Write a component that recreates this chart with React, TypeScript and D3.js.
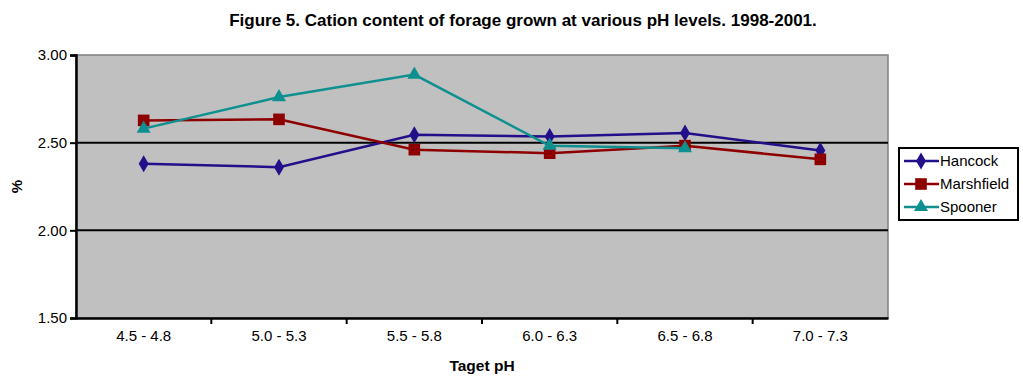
import { useEffect, useRef } from "react";
import * as d3 from "d3";

const categories = ["4.5 - 4.8", "5.0 - 5.3", "5.5 - 5.8", "6.0 - 6.3", "6.5 - 6.8", "7.0 - 7.3"];
const hancock = [2.38, 2.36, 2.545, 2.535, 2.555, 2.455];
const marshfield = [2.627, 2.633, 2.46, 2.44, 2.483, 2.405];
const spooner: (number | null)[] = [2.58, 2.76, 2.888, 2.482, 2.468, null];
const yTicks = [1.5, 2.0, 2.5, 3.0];

const series = [
  { name: "Hancock", values: hancock, color: "#21108a", symbol: d3.symbolDiamond, size: 85 },
  { name: "Marshfield", values: marshfield, color: "#8e0000", symbol: d3.symbolSquare, size: 135 },
  { name: "Spooner", values: spooner, color: "#0f9090", symbol: d3.symbolTriangle, size: 85 },
];

const W = 1023, H = 390;
const m = { left: 76, right: 135, top: 55, bottom: 72 };

export default function App() {
  const svgRef = useRef<SVGSVGElement>(null);

  useEffect(() => {
    if (!svgRef.current) return;
    const svg = d3.select(svgRef.current);
    svg.selectAll("*").remove();

    const x = d3.scaleBand().domain(categories).range([m.left, W - m.right]);
    const y = d3.scaleLinear().domain([1.5, 3.0]).range([H - m.bottom, m.top]);
    const font = "'Liberation Sans', Arial, sans-serif";

    svg.append("rect")
      .attr("x", m.left).attr("y", m.top)
      .attr("width", W - m.left - m.right).attr("height", H - m.top - m.bottom)
      .attr("fill", "#c0c0c0").attr("stroke", "#808080").attr("stroke-width", 1.5);

    // gridlines
    svg.append("g").selectAll("line")
      .data(yTicks.filter((t) => t > 1.5 && t < 3.0))
      .join("line")
      .attr("x1", m.left).attr("x2", W - m.right)
      .attr("y1", (d) => y(d)).attr("y2", (d) => y(d))
      .attr("stroke", "#000").attr("stroke-width", 2);

    // y axis
    const yAxis = svg.append("g").attr("transform", `translate(${m.left},0)`)
      .call(d3.axisLeft(y).tickValues(yTicks).tickFormat(d3.format(".2f")).tickSize(6).tickPadding(3));
    yAxis.select(".domain").attr("stroke-width", 2.5);
    yAxis.selectAll(".tick line").attr("stroke-width", 2);
    yAxis.selectAll("text").attr("font-family", font).attr("font-size", 15).attr("fill", "#000");

    // x axis
    const xAxis = svg.append("g").attr("transform", `translate(0,${H - m.bottom})`)
      .call(d3.axisBottom(x).tickSize(0).tickPadding(12));
    xAxis.select(".domain").attr("stroke-width", 2.5);
    xAxis.selectAll("text").attr("font-family", font).attr("font-size", 15).attr("fill", "#000");
    svg.append("g").selectAll("line")
      .data(categories.slice(1))
      .join("line")
      .attr("x1", (d) => x(d)!).attr("x2", (d) => x(d)!)
      .attr("y1", H - m.bottom).attr("y2", H - m.bottom + 6)
      .attr("stroke", "#000").attr("stroke-width", 2);

    const cx = (i: number) => x(categories[i])! + x.bandwidth() / 2;

    series.forEach((s) => {
      const line = d3.line<number | null>()
        .defined((d) => d != null)
        .x((_, i) => cx(i))
        .y((d) => y(d as number));
      svg.append("path")
        .datum(s.values)
        .attr("d", line)
        .attr("fill", "none").attr("stroke", s.color).attr("stroke-width", 2.5);
      svg.append("g").selectAll("path")
        .data(s.values.map((v, i) => ({ v, i })).filter((d) => d.v != null))
        .join("path")
        .attr("transform", (d) => `translate(${cx(d.i)},${y(d.v as number)})`)
        .attr("d", d3.symbol().type(s.symbol).size(s.size)())
        .attr("fill", s.color);
    });

    // legend
    const lg = svg.append("g").attr("transform", "translate(899,148)");
    lg.append("rect").attr("width", 119).attr("height", 72)
      .attr("fill", "#fff").attr("stroke", "#000").attr("stroke-width", 2);
    series.forEach((s, i) => {
      const yy = 13 + i * 23;
      lg.append("line").attr("x1", 5).attr("x2", 40).attr("y1", yy).attr("y2", yy)
        .attr("stroke", s.color).attr("stroke-width", 2.5);
      lg.append("path").attr("transform", `translate(22,${yy})`)
        .attr("d", d3.symbol().type(s.symbol).size(s.size)()).attr("fill", s.color);
      lg.append("text").attr("x", 41).attr("y", yy).attr("dy", "0.35em")
        .attr("font-family", font).attr("font-size", 15).text(s.name);
    });

    svg.append("text").attr("x", 523).attr("y", 26).attr("text-anchor", "middle")
      .attr("font-family", font).attr("font-size", 17).attr("font-weight", "bold")
      .text("Figure 5. Cation content of forage grown at various pH levels. 1998-2001.");
    svg.append("text").attr("x", (m.left + W - m.right) / 2).attr("y", 371).attr("text-anchor", "middle")
      .attr("font-family", font).attr("font-size", 15.5).attr("font-weight", "bold")
      .text("Taget pH");
    svg.append("text").attr("transform", `translate(22,${(m.top + H - m.bottom) / 2}) rotate(-90)`)
      .attr("text-anchor", "middle")
      .attr("font-family", font).attr("font-size", 15).attr("font-weight", "bold")
      .text("%");
  }, []);

  return (
    <div style={{ position: "absolute", left: 0, top: 0 }}>
      <svg ref={svgRef} width={W} height={H} style={{ display: "block", background: "#fff" }} />
    </div>
  );
}
